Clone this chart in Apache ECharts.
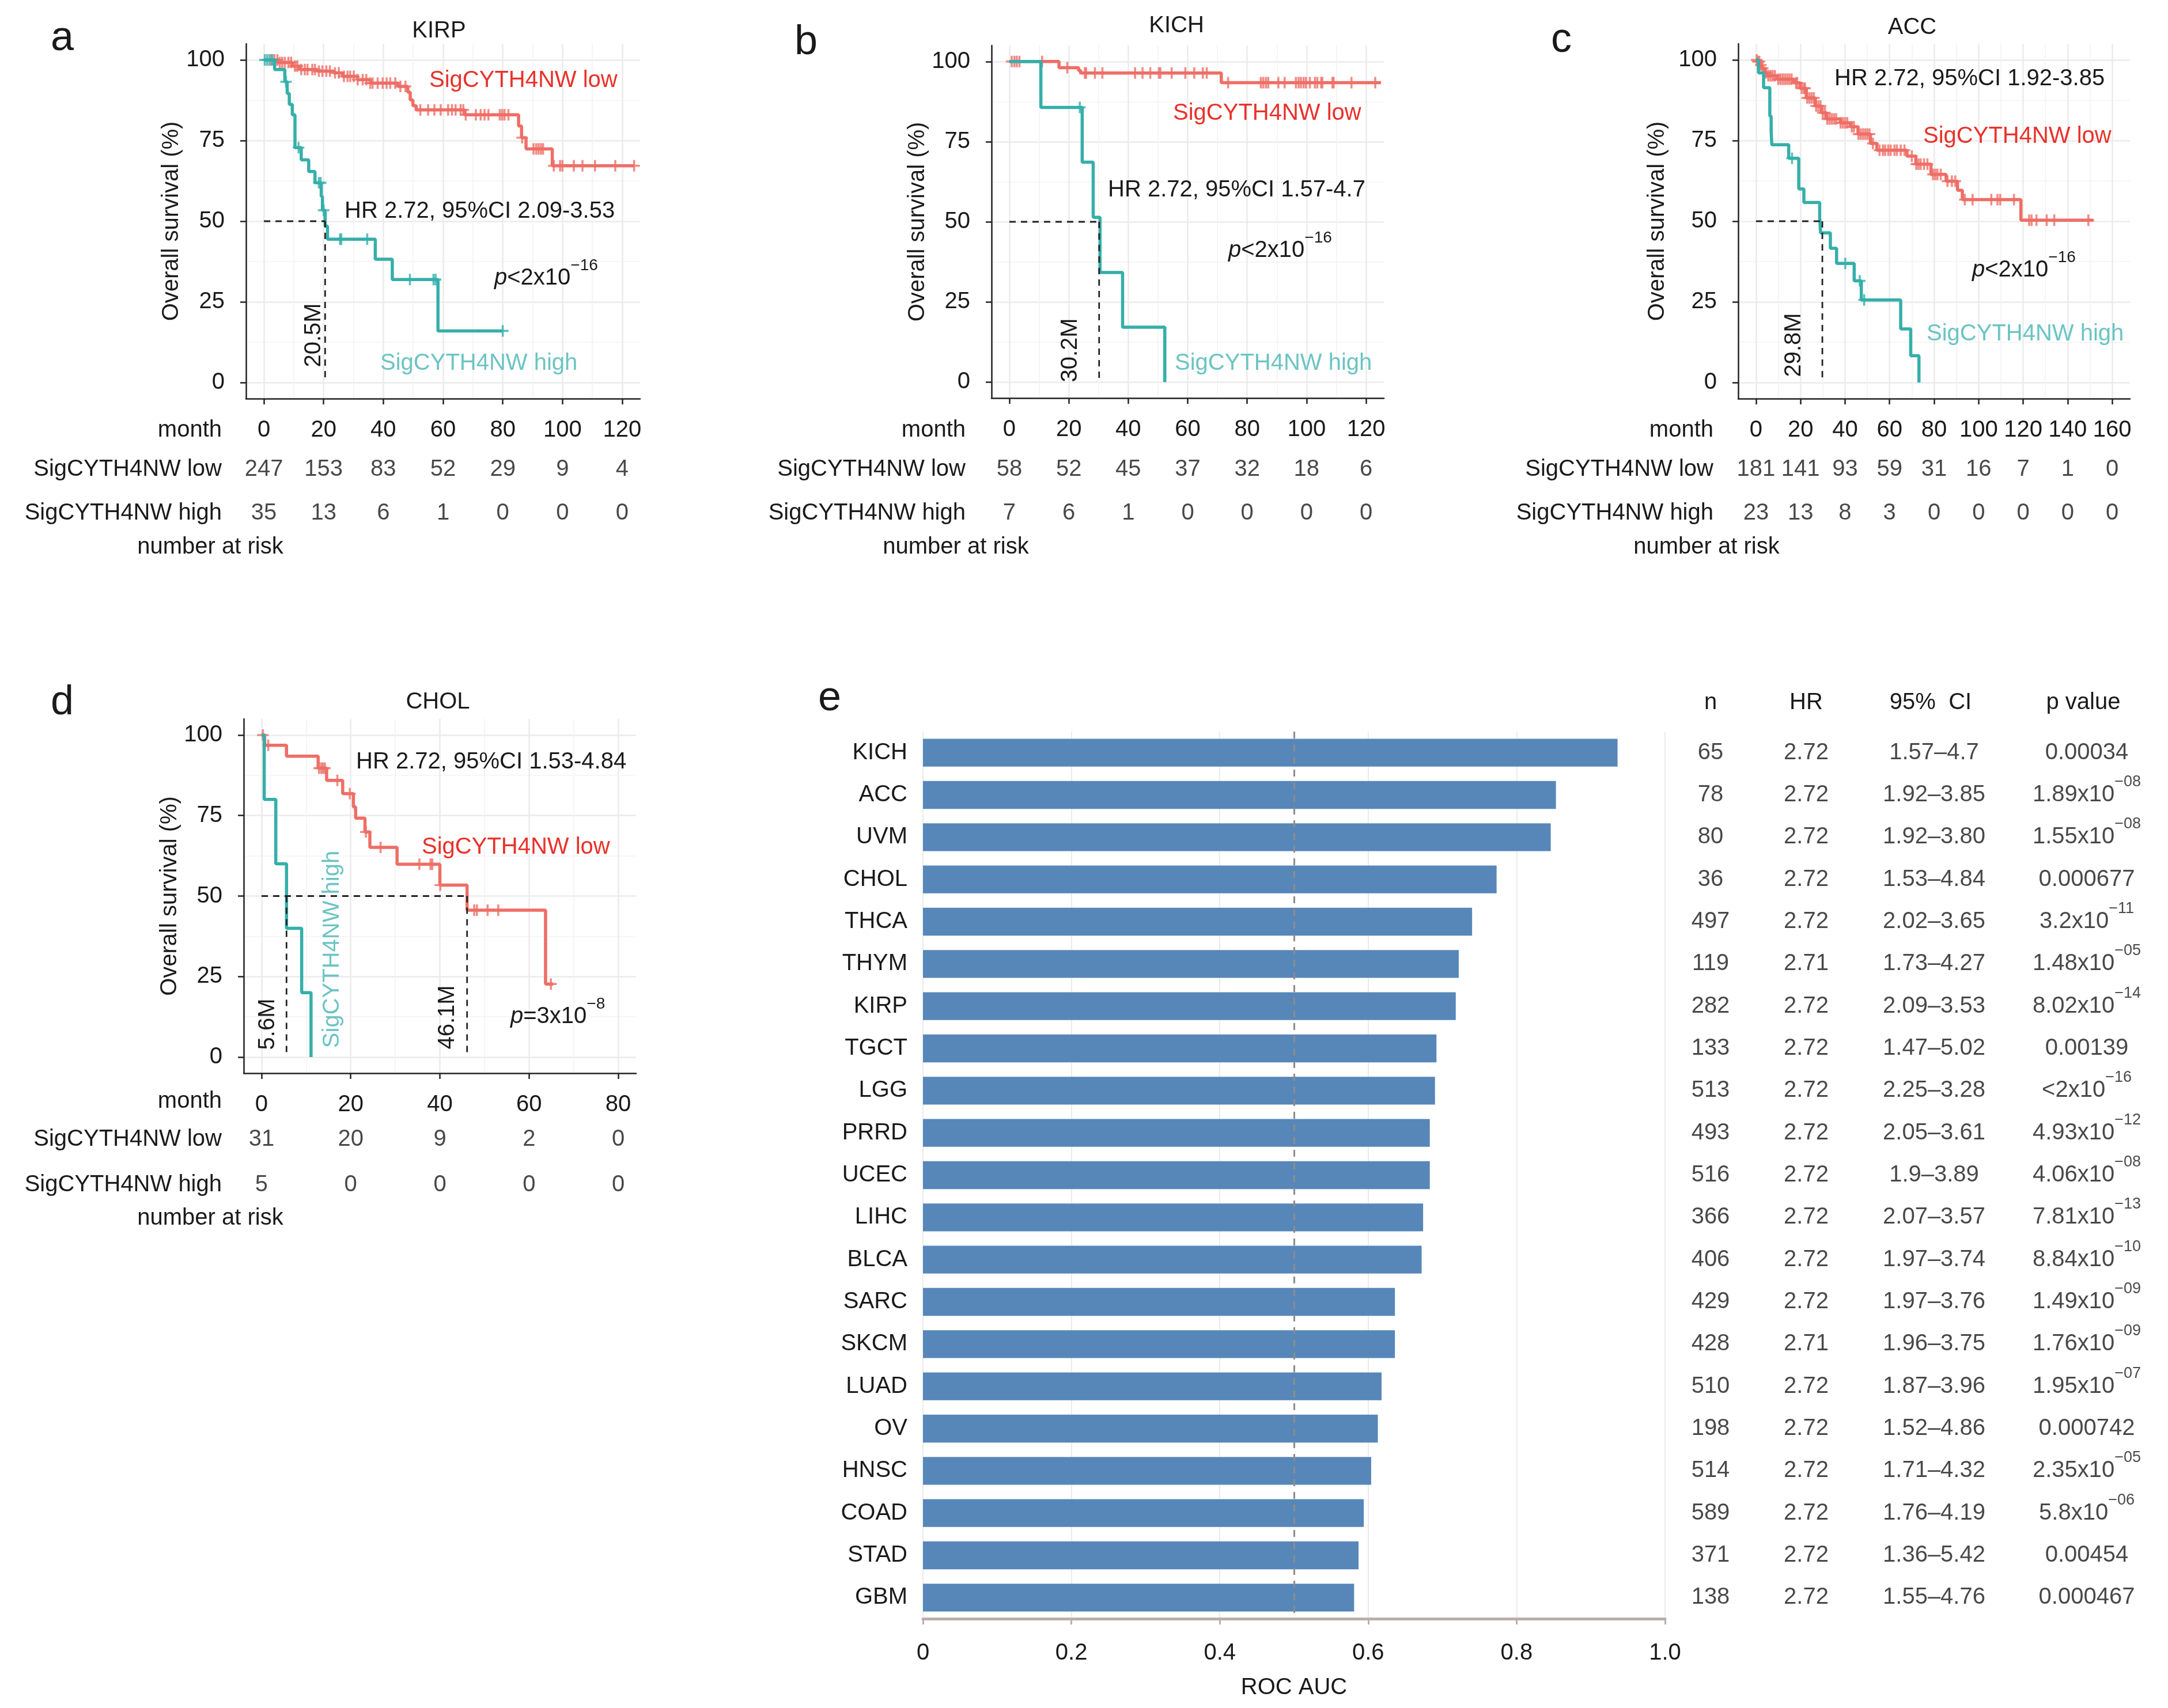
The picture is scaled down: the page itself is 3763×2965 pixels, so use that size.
<!DOCTYPE html>
<html><head><meta charset="utf-8">
<script src="https://cdn.jsdelivr.net/npm/echarts@6.0.0/dist/echarts.min.js"></script>
<style>html,body{margin:0;padding:0;background:#fff}#c{width:3763px;height:2965px}</style>
</head><body><div id="c"></div>
<script>
// ---------------- DATA ----------------
// Kaplan-Meier step points [month, survival %]
const kirpLow = [[0,100],[4.9,99.2],[9.5,98.1],[12,97.0],[17.9,96.5],[23.4,96.0],[26.3,94.9],[31.4,93.9],[35.6,92.8],[44.9,91.8],[48.2,90.0],[49,87.6],[49.9,85.8],[51,84.5],[67.2,83.0],[85.3,79.5],[86.3,75.9],[87.8,72.4],[96.6,67.2],[124,67.2]];
const kirpHigh = [[0,100],[3.6,97.0],[7.0,93.2],[7.8,89.6],[8.5,86.2],[9.5,83],[10.4,72.8],[12.5,69],[15,65.4],[17.1,61.9],[19.2,57.7],[19.6,53.4],[20.5,48.5],[21.3,44.4],[37.3,38.2],[43,31.9],[58.3,16],[80,16]];
const kirpLowCens = [2.5,3.5,4.5,5.3,6.1,7,8.2,9.1,10.4,11.2,12.5,13.7,14.6,16.2,17.1,18.4,19.6,20.9,22.1,23.8,25.1,26.8,28,28.9,30.1,31.4,33.1,34.3,35.6,36.4,38.1,39.8,41.1,42.3,44,45.7,47.4,52.4,55,57.1,59.2,61.7,63,64.2,65.9,66.8,67.6,71,72.6,73.9,75.2,79,79.8,80.6,81.9,86.5,90.3,91.2,92,92.8,93.5,97.1,99.2,100,103.8,106.7,110.9,117.7,124];
const kirpHighCens = [0.3,1.1,1.9,2.8,7.4,11.6,18.4,19.0,20.0,25.5,25.9,34.6,48.9,56.8,57.5,80];
const kirpMonths = [0,20,40,60,80,100,120];
const kirpRiskLow = [247,153,83,52,29,9,4];
const kirpRiskHigh = [35,13,6,1,0,0,0];
const kirpMedians = [20.5];

const kichLow = [[0,100],[16.7,98.1],[23.3,97.2],[24,96.4],[71.3,93.4],[125,93.4]];
const kichHigh = [[0,100],[10.6,85.7],[24.5,68.6],[28.2,51.4],[30.5,34.2],[38.1,17.1],[52.3,0]];
const kichLowCens = [0.8,1.7,2.5,3.4,11,19.5,25.4,25.8,28.8,31.3,42.3,44.8,47.4,50.3,50.8,54.6,59.2,62.2,65.1,66.4,73.6,84.6,85.4,86.3,87.1,90.5,92.6,96.4,97.3,98.1,99,99.8,101.1,102.8,103.6,104.9,105.3,108.7,109.1,115.1,123.1];
const kichHighCens = [23.7];
const kichMonths = [0,20,40,60,80,100,120];
const kichRiskLow = [58,52,45,37,32,18,6];
const kichRiskHigh = [7,6,1,0,0,0,0];
const kichMedians = [30.2];

const accLow = [[0,100],[0.6,99.5],[1.7,98.4],[2.8,97.4],[4,96],[5.1,95.1],[9.6,94],[17,92.9],[19.8,91.2],[22.6,88.2],[26.6,85.7],[29.4,83.6],[31.7,81.7],[37.9,80.5],[42.4,79.3],[45.8,77],[51.4,74.1],[54.3,72],[67.8,70.2],[71.8,67.7],[78.6,64.5],[85.4,62.4],[90.5,59.6],[92.7,56.7],[119,50.3],[151.5,50.3]];
const accHigh = [[0,100],[1.1,96],[3.4,91.4],[6.2,82.6],[6.8,78],[7.1,73.7],[14.7,69.5],[19.2,60],[21.5,55.8],[28.6,51.2],[29,46.4],[33.4,41.6],[36.2,36.9],[44.1,31.5],[47.3,25.6],[65,16.6],[69.5,8.3],[73.2,0]];
const accLowCens = [0.3,0.8,1.5,2.2,3.0,4.5,5.5,6.5,7.5,8.5,10,11,12,13,14,15,16,18,18.5,20.5,21.5,22,23,24,25,26,27,28,29,30,31,32,33,34,35,36,38,39,40,41,43,44,46,47,48,49,50,51,52.5,55.5,57,58,59.4,60.5,62.2,63.3,65,66.7,70,72,73,74,75.5,77,79.5,80.5,81.5,83,86,88,89.5,93.8,97.3,105.7,108.5,109.7,115.9,122.7,123.8,126,130.6,134,149.3];
const accHighCens = [16.2,40.1,46.6,48.6];
const accMonths = [0,20,40,60,80,100,120,140,160];
const accRiskLow = [181,141,93,59,31,16,7,1,0];
const accRiskHigh = [23,13,8,3,0,0,0,0,0];
const accMedians = [29.8];

const cholLow = [[0,100],[0.7,96.8],[5.6,93.4],[12.7,89.7],[14.6,85.9],[18.2,81.8],[20.6,77.7],[21.1,74.2],[23.2,69.9],[24.3,65.1],[30.4,59.9],[40,53.4],[46.1,45.6],[63.7,22.7],[65.4,22.7]];
const cholHigh = [[0,100],[0.6,80],[3.2,60],[5.6,40],[9,20],[11.1,0]];
const cholLowCens = [0.3,1.5,12.9,13.4,13.8,14.2,17,19.8,23.4,26.7,35.4,37.9,38.3,40.1,47.7,48.3,50.7,53.1,64.9];
const cholHighCens = [];
const cholMonths = [0,20,40,60,80];
const cholRiskLow = [31,20,9,2,0];
const cholRiskHigh = [5,0,0,0,0];
const cholMedians = [5.6,46.1];

const survTicks = [0,25,50,75,100];

// Panel e
const cancers = ['KICH','ACC','UVM','CHOL','THCA','THYM','KIRP','TGCT','LGG','PRRD','UCEC','LIHC','BLCA','SARC','SKCM','LUAD','OV','HNSC','COAD','STAD','GBM'];
const rocAuc = [0.936,0.853,0.846,0.773,0.740,0.722,0.718,0.692,0.690,0.683,0.683,0.674,0.672,0.636,0.636,0.618,0.613,0.604,0.594,0.587,0.581];
const nValues = [65,78,80,36,497,119,282,133,513,493,516,366,406,429,428,510,198,514,589,371,138];
const hrValues = ['2.72','2.72','2.72','2.72','2.72','2.71','2.72','2.72','2.72','2.72','2.72','2.72','2.72','2.72','2.71','2.72','2.72','2.72','2.72','2.72','2.72'];
const ciValues = ['1.57–4.7','1.92–3.85','1.92–3.80','1.53–4.84','2.02–3.65','1.73–4.27','2.09–3.53','1.47–5.02','2.25–3.28','2.05–3.61','1.9–3.89','2.07–3.57','1.97–3.74','1.97–3.76','1.96–3.75','1.87–3.96','1.52–4.86','1.71–4.32','1.76–4.19','1.36–5.42','1.55–4.76'];
const pValues = ['0.00034','1.89x10^−08','1.55x10^−08','0.000677','3.2x10^−11','1.48x10^−05','8.02x10^−14','0.00139','<2x10^−16','4.93x10^−12','4.06x10^−08','7.81x10^−13','8.84x10^−10','1.49x10^−09','1.76x10^−09','1.95x10^−07','0.000742','2.35x10^−05','5.8x10^−06','0.00454','0.000467'];
const tableHeaders = ['n','HR','95%  CI','p value'];

// ---------------- STYLE ----------------
const FONT = 'Liberation Sans, Arial, sans-serif';
const TXT = '#1a1a1a';
const LOWC = '#EE6E66', HIGHC = '#35AFAA', LOWT = '#E8322B', HIGHT = '#6CC4C3';
const PLUS = 'path://M-1.6,-9H1.6V-1.6H9V1.6H1.6V9H-1.6V1.6H-9V-1.6H-1.6Z';
const SUP_LH = 56;               // line height of superscript rows
const SUP_SHIFT = SUP_LH/2 - 20; // main text sits this far below the label centre

function stepAt(curve, t){ let s = curve[0][1]; for (const p of curve){ if (p[0] <= t) s = p[1]; else break; } return s; }
function mids(a){ const r=[]; for(let i=1;i<a.length;i++) r.push((a[i-1]+a[i])/2); return r; }

const panels = [
 {letter:'a', title:'KIRP', low:kirpLow, high:kirpHigh, lowC:kirpLowCens, highC:kirpHighCens, months:kirpMonths, rl:kirpRiskLow, rh:kirpRiskHigh, med:kirpMedians,
  hr:'HR 2.72, 95%CI 2.09-3.53', p:['p','<2x10','−16'],
  grid:{left:427,top:76,width:684,height:616}, xr:[-6,126], risk:{top:777,height:152,margin:42}, nameGap:109,
  pos:{letter:[108,67], title:[762,54], hr:[598,367], p:[858,483], low:[745,140], high:[660,631], med:[[545,582]], nar:[365,950], month:[385,747]}},
 {letter:'b', title:'KICH', low:kichLow, high:kichHigh, lowC:kichLowCens, highC:kichHighCens, months:kichMonths, rl:kichRiskLow, rh:kichRiskHigh, med:kichMedians,
  hr:'HR 2.72, 95%CI 1.57-4.7', p:['p','<2x10','−16'],
  grid:{left:1721,top:79,width:681,height:612}, xr:[-6,126], risk:{top:777,height:152,margin:45}, nameGap:106,
  pos:{letter:[1399,74], title:[2042,45], hr:[1923,330], p:[2132,435], low:[2036,197], high:[2039,631], med:[[1858,608]], nar:[1659,950], month:[1676,747]}},
 {letter:'c', title:'ACC', low:accLow, high:accHigh, lowC:accLowCens, highC:accHighCens, months:accMonths, rl:accRiskLow, rh:accRiskHigh, med:accMedians,
  hr:'HR 2.72, 95%CI 1.92-3.85', p:['p','<2x10','−16'],
  grid:{left:3017,top:76,width:680,height:616}, xr:[-8,168], risk:{top:777,height:152,margin:43}, nameGap:120,
  pos:{letter:[2710,70], title:[3319,48], hr:[3184,137], p:[3423,469], low:[3338,237], high:[3344,580], med:[[3114,599]], nar:[2962,950], month:[2974,747]}},
 {letter:'d', title:'CHOL', low:cholLow, high:cholHigh, lowC:cholLowCens, highC:cholHighCens, months:cholMonths, rl:cholRiskLow, rh:cholRiskHigh, med:cholMedians,
  hr:'HR 2.72, 95%CI 1.53-4.84', p:['p','=3x10','−8'], highRot:true,
  grid:{left:423,top:1248,width:681,height:615}, xr:[-4,84], risk:{top:1938,height:158,margin:38}, nameGap:107,
  pos:{letter:[108,1220], title:[760,1219], hr:[618,1323], p:[886,1765], low:[732,1471], high:[577,1648], med:[[465,1778],[777,1766]], nar:[365,2115], month:[385,1912]}}
];

const grids=[], xAxes=[], yAxes=[], series=[], graphics=[];
function txt(x,y,text,o){
  o=o||{};
  graphics.push({type:'text', x:x, y:y, rotation:o.rot||0, z:50, silent:true,
    style:{text:text, fontSize:o.size||40, fontFamily:FONT, fontWeight:o.weight||'normal', fill:o.color||TXT,
      align:o.align||'center', textAlign:o.align||'center', verticalAlign:'middle', textVerticalAlign:'middle', rich:o.rich}});
}
const labStyle = {fontSize:40, fontFamily:FONT, color:TXT};

panels.forEach(P=>{
  const g = grids.length;
  grids.push(Object.assign({}, P.grid));
  const xi = xAxes.length, yi = yAxes.length;
  xAxes.push({gridIndex:g, type:'value', min:P.xr[0], max:P.xr[1], position:'bottom',
    axisLine:{show:true, onZero:false, lineStyle:{color:'#222', width:2.5}},
    axisTick:{show:true, customValues:P.months, length:10, lineStyle:{color:'#222', width:2.5}},
    axisLabel:Object.assign({show:true, customValues:P.months, margin:35}, labStyle),
    splitLine:{show:true, lineStyle:{color:'#EBEBEB', width:2.5}}});
  xAxes.push({gridIndex:g, type:'value', min:P.xr[0], max:P.xr[1], position:'bottom',
    axisLine:{show:false}, axisTick:{show:false, customValues:mids(P.months)}, axisLabel:{show:false, customValues:mids(P.months)},
    splitLine:{show:true, lineStyle:{color:'#F3F3F3', width:1.6}}});
  yAxes.push({gridIndex:g, type:'value', min:-5, max:105, position:'left',
    name:'Overall survival (%)', nameLocation:'middle', nameGap:P.nameGap, nameTextStyle:{fontSize:40, fontFamily:FONT, color:TXT},
    axisLine:{show:true, onZero:false, lineStyle:{color:'#222', width:2.5}},
    axisTick:{show:true, customValues:survTicks, length:10, lineStyle:{color:'#222', width:2.5}},
    axisLabel:Object.assign({show:true, customValues:survTicks, margin:37}, labStyle),
    splitLine:{show:true, lineStyle:{color:'#EBEBEB', width:2.5}}});
  yAxes.push({gridIndex:g, type:'value', min:-5, max:105, position:'left',
    axisLine:{show:false}, axisTick:{show:false, customValues:mids(survTicks)}, axisLabel:{show:false, customValues:mids(survTicks)},
    splitLine:{show:true, lineStyle:{color:'#F3F3F3', width:1.6}}});

  const base = {xAxisIndex:xi, yAxisIndex:yi, silent:true, animation:false};
  series.push(Object.assign({type:'line', data:P.low, step:'end', showSymbol:false, lineStyle:{color:LOWC, width:5.5}, z:3}, base));
  series.push(Object.assign({type:'scatter', data:P.lowC.map(t=>[t, stepAt(P.low,t)]), symbol:PLUS, symbolSize:20, itemStyle:{color:LOWC}, z:4}, base));
  series.push(Object.assign({type:'line', data:P.high, step:'end', showSymbol:false, lineStyle:{color:HIGHC, width:5.5}, z:5}, base));
  series.push(Object.assign({type:'scatter', data:P.highC.map(t=>[t, stepAt(P.high,t)]), symbol:PLUS, symbolSize:20, itemStyle:{color:HIGHC}, z:6}, base));
  const mMax = Math.max.apply(null, P.med);
  const dash = {color:'#222', width:2.8, type:[11,9]};
  series.push(Object.assign({type:'line', data:[[0,50],[mMax,50]], showSymbol:false, lineStyle:dash, z:7}, base));
  P.med.forEach(m=> series.push(Object.assign({type:'line', data:[[m,50],[m,0]], showSymbol:false, lineStyle:dash, z:7}, base)));

  // risk table
  const rg = grids.length;
  grids.push({left:P.grid.left, width:P.grid.width, top:P.risk.top, height:P.risk.height});
  const rxi = xAxes.length, ryi = yAxes.length;
  xAxes.push({gridIndex:rg, type:'value', min:P.xr[0], max:P.xr[1], show:false});
  yAxes.push({gridIndex:rg, type:'category', data:['SigCYTH4NW low','SigCYTH4NW high'], inverse:true,
    axisLine:{show:false}, axisTick:{show:false}, splitLine:{show:false},
    axisLabel:Object.assign({margin:P.risk.margin}, labStyle)});
  const rdata = P.months.map((m,i)=>[m,'SigCYTH4NW low',P.rl[i]]).concat(P.months.map((m,i)=>[m,'SigCYTH4NW high',P.rh[i]]));
  series.push({type:'scatter', xAxisIndex:rxi, yAxisIndex:ryi, data:rdata, symbolSize:1, itemStyle:{color:'rgba(0,0,0,0)'}, silent:true,
    label:Object.assign({show:true, position:'inside', formatter:p=>String(p.value[2])}, labStyle)});

  // texts
  txt(P.pos.letter[0], P.pos.letter[1], P.letter, {size:72});
  txt(P.pos.title[0], P.pos.title[1], P.title);
  txt(P.pos.hr[0], P.pos.hr[1], P.hr, {align:'left'});
  txt(P.pos.p[0], P.pos.p[1] - SUP_SHIFT, '{i|'+P.p[0]+'}{m|'+P.p[1]+'}{s|'+P.p[2]+'}', {align:'left', rich:{
    i:{fontSize:40, fontFamily:FONT, fontStyle:'italic', fill:TXT, color:TXT, lineHeight:40, verticalAlign:'bottom'},
    m:{fontSize:40, fontFamily:FONT, fill:TXT, color:TXT, lineHeight:40, verticalAlign:'bottom'},
    s:{fontSize:28, fontFamily:FONT, fill:TXT, color:TXT, lineHeight:SUP_LH, verticalAlign:'top'}}});
  txt(P.pos.low[0], P.pos.low[1], 'SigCYTH4NW low', {align:'left', color:LOWT});
  if (P.highRot) txt(P.pos.high[0], P.pos.high[1], 'SigCYTH4NW high', {color:HIGHT, rot:Math.PI/2});
  else txt(P.pos.high[0], P.pos.high[1], 'SigCYTH4NW high', {align:'left', color:HIGHT});
  P.med.forEach((m,k)=> txt(P.pos.med[k][0], P.pos.med[k][1], m.toFixed(1)+'M', {rot:Math.PI/2}));
  txt(P.pos.month[0], P.pos.month[1], 'month', {align:'right'});
  txt(P.pos.nar[0], P.pos.nar[1], 'number at risk');
});

// ---------------- PANEL e ----------------
const bg = grids.length;
grids.push({left:1602, top:1270, width:1288, height:1540});
const bxi = xAxes.length, byi = yAxes.length;
xAxes.push({gridIndex:bg, type:'value', min:0, max:1, interval:0.2, position:'bottom',
  name:'ROC AUC', nameLocation:'middle', nameGap:100, nameTextStyle:{fontSize:40, fontFamily:FONT, color:TXT},
  axisLine:{show:true, lineStyle:{color:'#BBAEAB', width:5}},
  axisTick:{show:true, length:10, lineStyle:{color:'#BBAEAB', width:3}},
  axisLabel:Object.assign({margin:40, formatter:v=> v===0 ? '0' : v.toFixed(1)}, labStyle),
  splitLine:{show:true, lineStyle:{color:'#EBEBEB', width:2}}});
yAxes.push({gridIndex:bg, type:'category', data:cancers, inverse:true,
  axisLine:{show:false}, axisTick:{show:false}, splitLine:{show:false},
  axisLabel:Object.assign({margin:27}, labStyle)});
series.push({type:'bar', xAxisIndex:bxi, yAxisIndex:byi, data:rocAuc, barCategoryGap:'34%', itemStyle:{color:'#5787B9'}, silent:true,
  markLine:{silent:true, symbol:['none','none'], label:{show:false}, lineStyle:{color:'#8C8C8C', type:[12,10], width:3}, data:[{xAxis:0.5}]}});

// table
const tg = grids.length;
grids.push({left:2900, top:1270, width:863, height:1540});
const txi = xAxes.length, tyi = yAxes.length;
xAxes.push({gridIndex:tg, type:'value', min:2900, max:3763, show:false});
yAxes.push({gridIndex:tg, type:'category', data:cancers, inverse:true, show:false});
const colX = [2969, 3135, 3357, 3622];
const supRich = {
  m:{fontSize:40, fontFamily:FONT, color:TXT, lineHeight:40, verticalAlign:'bottom'},
  s:{fontSize:27, fontFamily:FONT, color:TXT, lineHeight:SUP_LH, verticalAlign:'top'}};
[nValues.map(String), hrValues, ciValues, pValues].forEach((col,ci)=>{
  series.push({type:'scatter', xAxisIndex:txi, yAxisIndex:tyi, symbolSize:1, itemStyle:{color:'rgba(0,0,0,0)'}, silent:true,
    data: col.map((v,i)=>{
      const sup = v.indexOf('^')>=0;
      return {value:[colX[ci], cancers[i]], text:v, label: sup ? {offset:[0,-SUP_SHIFT]} : {}};
    }),
    label:{show:true, position:'inside', fontSize:40, fontFamily:FONT, color:TXT, rich:supRich,
      formatter:p=>{ const v=p.data.text; const k=v.indexOf('^'); return k<0 ? '{m|'+v+'}' : '{m|'+v.slice(0,k)+'}{s|'+v.slice(k+1)+'}'; }}});
});
const headX = [2969, 3135, 3351, 3616];
tableHeaders.forEach((h,i)=> txt(headX[i], 1220, h));
txt(1440, 1213, 'e', {size:72});

const chart = echarts.init(document.getElementById('c'), null, {renderer:'canvas'});
chart.setOption({
  animation:false, backgroundColor:'#ffffff',
  grid:grids, xAxis:xAxes, yAxis:yAxes, series:series, graphic:{elements:graphics}
});
</script></body></html>
